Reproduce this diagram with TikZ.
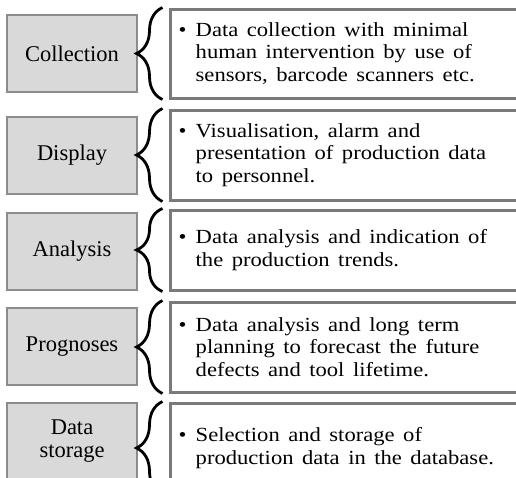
\documentclass[tikz,border=0pt]{standalone}
\usepackage{fontspec}
\setmainfont{Liberation Serif}
\newfontfamily\rfont{Liberation Serif}[FakeStretch=1.13]
\usetikzlibrary{decorations.pathreplacing}
\definecolor{lfill}{HTML}{D9D9D9}
\definecolor{lborder}{HTML}{8C8C8C}
\definecolor{rborder}{HTML}{7A7A7A}
\newcommand{\rtxt}[1]{\parbox{330pt}{\rfont\fontsize{20}{22.5}\selectfont\spaceskip=8.5pt plus 2pt\hangindent=17pt\hangafter=1\noindent\makebox[17pt][l]{•}#1}}
\begin{document}
\begin{tikzpicture}[x=1pt,y=-1pt,
  lbox/.style={draw=lborder,fill=lfill,line width=1.5pt,minimum width=130pt,minimum height=77pt,inner sep=0pt,align=center,font=\fontsize{22.5}{23}\selectfont},
  rbox/.style={draw=rborder,line width=3pt,minimum width=350pt,inner sep=0pt},
  rtext/.style={anchor=west,inner sep=0pt},
  bracestyle/.style={draw=black,line width=2.8pt,decorate,decoration={brace,amplitude=26pt}}]
\useasboundingbox (0,0) rectangle (516,477);
\clip (0,0) rectangle (516,477);
% row 1
\node[lbox] (l1) at (72,53.5) {Collection};
\node[rbox,minimum height=89pt] (r1) at (345,53.5) {};
\node[rtext] (t1) at ([xshift=10pt]r1.west) {\rtxt{Data collection with minimal\\human intervention by use of\\sensors, barcode scanners etc.}};
\draw[bracestyle] ([xshift=-6pt]r1.south west) -- ([xshift=-6pt]r1.north west);
% row 2
\node[lbox] (l2) at (72,155.5) {Display};
\node[rbox,minimum height=90pt] (r2) at (345,155) {};
\node[rtext] (t2) at ([xshift=10pt]r2.west) {\rtxt{Visualisation, alarm and\\presentation of production data\\to personnel.}};
\draw[bracestyle] ([xshift=-6pt]r2.south west) -- ([xshift=-6pt]r2.north west);
% row 3
\node[lbox] (l3) at (72,251.5) {Analysis};
\node[rbox,minimum height=80pt] (r3) at (345,250) {};
\node[rtext] (t3) at ([xshift=10pt]r3.west) {\rtxt{Data analysis and indication of\\the production trends.}};
\draw[bracestyle] ([xshift=-6pt]r3.south west) -- ([xshift=-6pt]r3.north west);
% row 4
\node[lbox] (l4) at (72,346.5) {Prognoses};
\node[rbox,minimum height=90pt] (r4) at (345,347) {};
\node[rtext] (t4) at ([xshift=10pt]r4.west) {\rtxt{Data analysis and long term\\planning to forecast the future\\defects and tool lifetime.}};
\draw[bracestyle] ([xshift=-6pt]r4.south west) -- ([xshift=-6pt]r4.north west);
% row 5
\node[lbox] (l5) at (72,441.5) {Data\\storage};
\node[rbox,minimum height=90pt] (r5) at (345,448) {};
\node[rtext] (t5) at ([xshift=10pt]r5.west) {\rtxt{Selection and storage of\\production data in the database.}};
\draw[bracestyle] ([xshift=-6pt]r5.south west) -- ([xshift=-6pt]r5.north west);
\end{tikzpicture}
\end{document}
